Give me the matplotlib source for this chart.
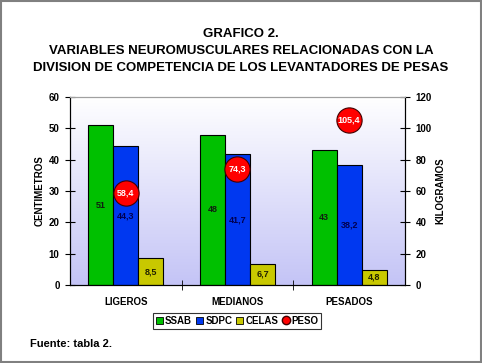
import numpy as np
import matplotlib
matplotlib.use("Agg")
import matplotlib.pyplot as plt
from matplotlib.patches import Patch, Rectangle
from matplotlib.lines import Line2D

plt.rcParams['font.family'] = ['Liberation Sans', 'DejaVu Sans']
plt.rcParams['font.weight'] = 'bold'

# data
categories = ["LIGEROS", "MEDIANOS", "PESADOS"]
ssab = [51, 48, 43]
sdpc = [44.3, 41.7, 38.2]
celas = [8.5, 6.7, 4.8]
peso = [58.4, 74.3, 105.4]

series_names = ["SSAB", "SDPC", "CELAS", "PESO"]
colors = ["#00c000", "#0038f0", "#c8c800", "#ff0000"]


def fmt(v):
    s = "{:g}".format(v)
    return s.replace(".", ",")


fig = plt.figure(figsize=(4.82, 3.63), dpi=100)
fig.patches.append(Rectangle((0.002, 0.003), 0.995, 0.994, transform=fig.transFigure,
                             fill=False, edgecolor="#808080", linewidth=1.5))

ax = fig.add_axes([0.1452, 0.2149, 0.695, 0.518])
ax2 = ax.twinx()

# background gradient of the plot area
grad = np.linspace(0, 1, 256).reshape(-1, 1)
cmap = matplotlib.colors.LinearSegmentedColormap.from_list("bg", ["#c4c4f6", "#ffffff"])
ax.imshow(grad, aspect="auto", cmap=cmap, origin="lower",
          extent=(-0.5, 2.5, 0, 60), zorder=0)

x = np.arange(len(categories))
w = 0.224
for off, vals, col, tcol in [(-w, ssab, colors[0], "#102010"),
                             (0, sdpc, colors[1], "#000050"),
                             (w, celas, colors[2], "#202000")]:
    bars = ax.bar(x + off, vals, w, color=col, edgecolor="black", linewidth=0.8, zorder=2)
    for xi, v in zip(x + off, vals):
        ax.text(xi, v / 2, fmt(v), ha="center", va="center", fontsize=6.5,
                fontweight="bold", color=tcol, zorder=3)

ax2.scatter(x, peso, s=330, color=colors[3], edgecolor="#400000", linewidth=0.8, zorder=5)
for xi, v in zip(x, peso):
    ax2.text(xi, v, fmt(v), ha="center", va="center", fontsize=6.5,
             fontweight="bold", color="white", zorder=6)

ax.set_xlim(-0.5, 2.5)
ax.set_ylim(0, 60)
ax2.set_ylim(0, 120)
ax.set_yticks(np.arange(0, 61, 10))
ax2.set_yticks(np.arange(0, 121, 20))
ax.set_xticks(x)
ax.set_xticklabels(categories)
ax.set_xticks([0.5, 1.5], minor=True)
ax.tick_params(axis="x", which="major", length=0, pad=9, labelsize=7)
ax.tick_params(axis="x", which="minor", length=7, direction="inout")
ax.tick_params(axis="y", length=7, direction="inout", labelsize=7, pad=4)
ax2.tick_params(axis="y", length=7, direction="inout", labelsize=7, pad=4)

for a in (ax, ax2):
    a.spines["top"].set_color("#a0a0a0")
    a.spines["left"].set_color("black")
    a.spines["right"].set_color("black")
    a.spines["bottom"].set_color("black")
    a.set_zorder(1)
ax2.set_zorder(2)
ax2.patch.set_visible(False)

ax.set_ylabel("CENTIMETROS", fontsize=7, fontweight="bold", labelpad=3)
ax2.set_ylabel("KILOGRAMOS", fontsize=7, fontweight="bold", labelpad=3)

fig.text(0.5, 0.905, "GRAFICO 2.", ha="center", va="center", fontsize=9.5, fontweight="bold")
fig.text(0.5, 0.86, "VARIABLES NEUROMUSCULARES RELACIONADAS CON LA",
         ha="center", va="center", fontsize=9.5, fontweight="bold")
fig.text(0.5, 0.813, "DIVISION DE COMPETENCIA DE LOS LEVANTADORES DE PESAS",
         ha="center", va="center", fontsize=9.5, fontweight="bold")
fig.text(0.062, 0.052, "Fuente: tabla 2.", ha="left", va="center", fontsize=8, fontweight="bold")

handles = [Patch(facecolor=c, edgecolor="black", linewidth=0.6) for c in colors[:3]]
handles.append(Line2D([], [], marker="o", linestyle="", markerfacecolor=colors[3],
                      markeredgecolor="#400000", markersize=6))
leg = fig.legend(handles, series_names, loc="center", bbox_to_anchor=(0.492, 0.116),
                 ncol=4, fontsize=7, frameon=True, fancybox=False, handlelength=0.7,
                 handleheight=0.7, handletextpad=0.25, columnspacing=0.4,
                 borderpad=0.3, borderaxespad=0)
leg.get_frame().set_edgecolor("black")
leg.get_frame().set_linewidth(0.8)

fig.savefig("out.png", dpi=100)
